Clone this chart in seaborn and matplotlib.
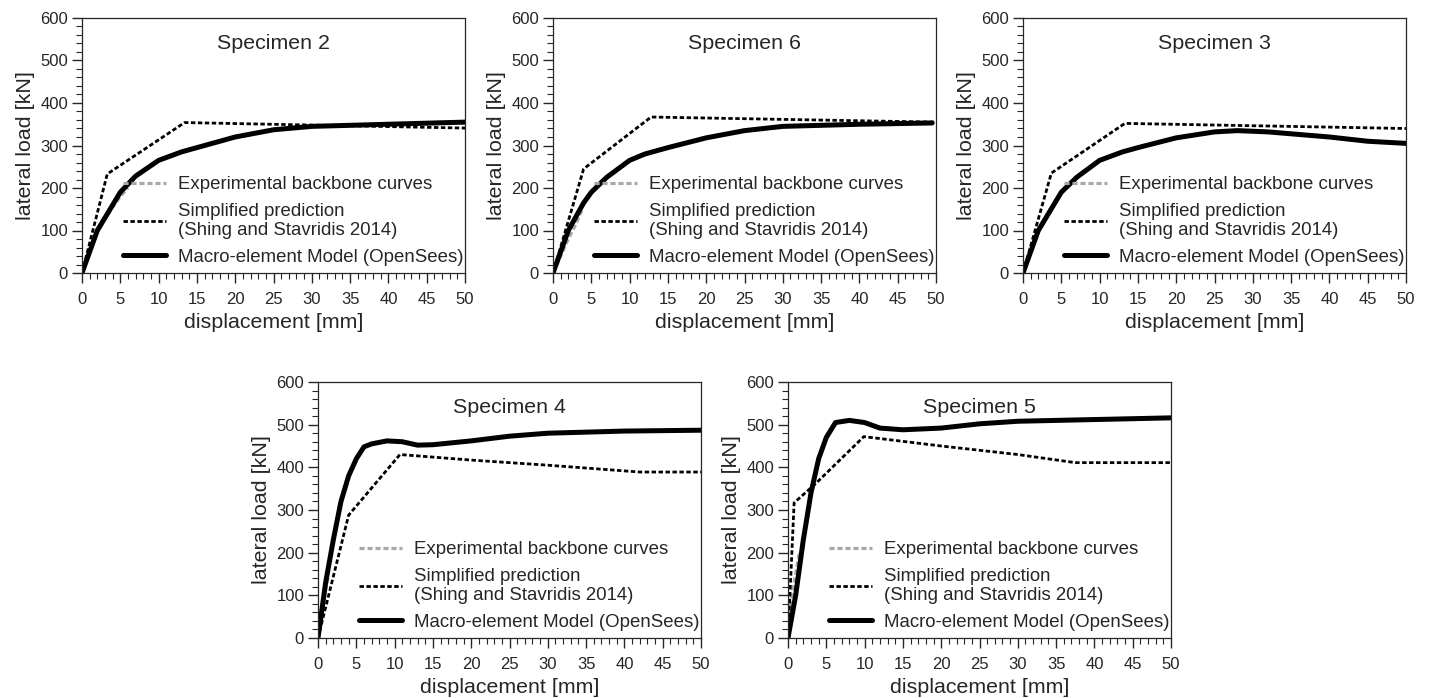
import numpy as np
import pandas as pd
import matplotlib
matplotlib.use("Agg")
import matplotlib.pyplot as plt
from matplotlib.ticker import MultipleLocator
import seaborn as sns

sns.set_style("ticks")
plt.rcParams['font.family'] = ['Liberation Sans', 'DejaVu Sans']

specimens = ["Specimen 2", "Specimen 6", "Specimen 3", "Specimen 4", "Specimen 5"]

# Experimental backbone curves (displacement mm, load kN)
exp_x = {
    "Specimen 2": [0, 1, 2, 3, 4, 5, 6],
    "Specimen 6": [0, 1, 2, 3, 3.8],
    "Specimen 3": [0, 1, 2, 3, 4],
    "Specimen 4": [0, 0.5, 1.0, 1.3],
    "Specimen 5": [0, 0.5, 1.0, 1.5],
}
exp_y = {
    "Specimen 2": [0, 55, 95, 128, 155, 180, 200],
    "Specimen 6": [0, 40, 80, 115, 150],
    "Specimen 3": [0, 50, 98, 132, 160],
    "Specimen 4": [0, 60, 115, 140],
    "Specimen 5": [0, 100, 150, 200],
}

# Simplified prediction (Shing and Stavridis 2014)
sim_x = {
    "Specimen 2": [0, 3.3, 13.4, 50],
    "Specimen 6": [0, 4.0, 12.8, 50],
    "Specimen 3": [0, 3.7, 13.3, 50],
    "Specimen 4": [0, 4.0, 10.7, 20, 30, 42, 50],
    "Specimen 5": [0, 0.8, 3.5, 9.9, 20, 30, 37.5, 50],
}
sim_y = {
    "Specimen 2": [0, 233, 354, 341],
    "Specimen 6": [0, 245, 367, 355],
    "Specimen 3": [0, 235, 352, 340],
    "Specimen 4": [0, 288, 430, 417, 405, 389, 389],
    "Specimen 5": [0, 317, 360, 472, 450, 430, 411, 411],
}

# Macro-element Model (OpenSees)
mac_x = {
    "Specimen 2": [0, 2, 4, 5, 7, 10, 13, 15, 20, 25, 30, 40, 50],
    "Specimen 6": [0, 2, 4, 5, 7, 10, 12, 15, 20, 25, 30, 40, 49.5],
    "Specimen 3": [0, 2, 4, 5, 7, 10, 13, 15, 20, 25, 28, 32, 40, 45, 50],
    "Specimen 4": [0, 1, 2, 3, 4, 5, 6, 7, 9, 11, 13, 15, 20, 25, 30, 40, 50],
    "Specimen 5": [0, 1, 2, 3, 4, 5, 6.2, 8, 10, 12, 15, 20, 25, 30, 40, 50],
}
mac_y = {
    "Specimen 2": [0, 100, 160, 190, 228, 265, 285, 295, 320, 337, 345, 350, 355],
    "Specimen 6": [0, 100, 165, 190, 225, 265, 280, 295, 318, 335, 345, 350, 353],
    "Specimen 3": [0, 100, 160, 190, 225, 265, 285, 295, 318, 332, 335, 332, 320, 310, 305],
    "Specimen 4": [0, 130, 230, 320, 380, 420, 448, 455, 462, 460, 452, 453, 462, 473, 480, 485, 487],
    "Specimen 5": [0, 100, 230, 340, 420, 470, 505, 510, 505, 492, 488, 492, 502, 508, 512, 516],
}

x_ticks = [0, 5, 10, 15, 20, 25, 30, 35, 40, 45, 50]
y_ticks = [0, 100, 200, 300, 400, 500, 600]

fig = plt.figure(figsize=(14.31, 6.98), dpi=100)
W, H = 1431, 698
boxes = {
    "Specimen 2": (82, 18, 383, 255),
    "Specimen 6": (553, 18, 383, 255),
    "Specimen 3": (1023, 18, 383, 255),
    "Specimen 4": (318, 382, 383, 256),
    "Specimen 5": (788, 382, 383, 256),
}

for name in specimens:
    l, t, w, h = boxes[name]
    ax = fig.add_axes([l / W, 1 - (t + h) / H, w / W, h / H])
    sns.lineplot(x=exp_x[name], y=exp_y[name], ax=ax, sort=False, estimator=None,
                 color="#a8a8a8", lw=2.3, linestyle=(0, (1.6, 0.9)),
                 label="Experimental backbone curves")
    sns.lineplot(x=sim_x[name], y=sim_y[name], ax=ax, sort=False, estimator=None,
                 color="black", lw=2.0, linestyle=(0, (1.6, 0.9)),
                 label="Simplified prediction\n(Shing and Stavridis 2014)")
    sns.lineplot(x=mac_x[name], y=mac_y[name], ax=ax, sort=False, estimator=None,
                 color="black", lw=3.6, label="Macro-element Model (OpenSees)")
    ax.set_xlim(0, 50)
    ax.set_ylim(0, 600)
    ax.set_xticks(x_ticks)
    ax.set_yticks(y_ticks)
    ax.xaxis.set_minor_locator(MultipleLocator(1))
    ax.yaxis.set_minor_locator(MultipleLocator(20))
    ax.tick_params(which="major", length=7, width=1, direction="out", labelsize=12)
    ax.tick_params(axis="x", which="major", pad=7)
    ax.tick_params(axis="y", which="major", pad=3)
    ax.tick_params(which="minor", length=4, width=0.8, direction="out")
    for s in ax.spines.values():
        s.set_linewidth(0.9)
    ax.set_xlabel("displacement [mm]", fontsize=15.4, labelpad=4)
    ax.set_ylabel("lateral load [kN]", fontsize=15.4, labelpad=4)
    ax.text(0.5, 0.9, name, transform=ax.transAxes, ha="center", va="center", fontsize=15.4)
    ax.legend(loc="lower right", bbox_to_anchor=(1.015, 0.0), frameon=False, fontsize=13.4,
              handlelength=2.3, handletextpad=0.65, labelspacing=0.5,
              borderaxespad=0.1, borderpad=0.3)

fig.savefig("out.png", dpi=100)
